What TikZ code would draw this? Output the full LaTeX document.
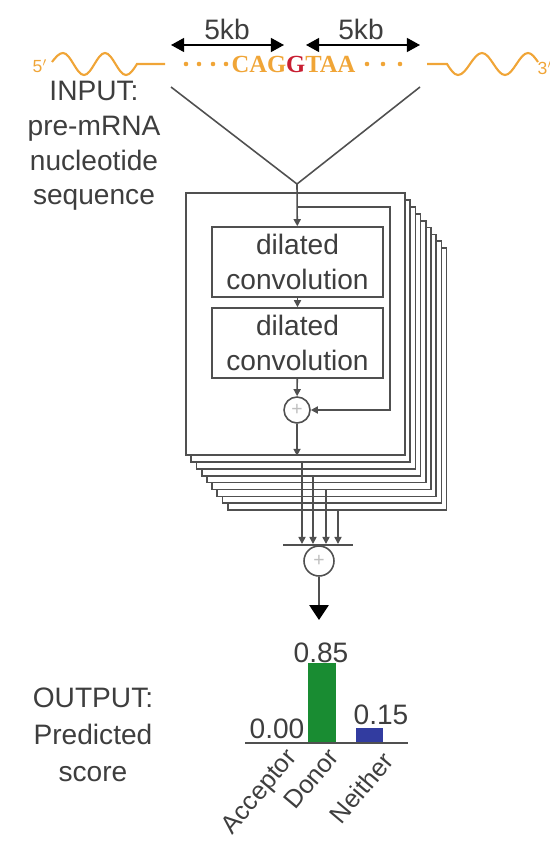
\documentclass[tikz,border=0pt]{standalone}
\usepackage{fontspec}
\setmainfont{Liberation Sans}
\newfontfamily\seqfont{Liberation Serif}
\usepackage{tikz}
\usetikzlibrary{positioning, arrows.meta}
\usepackage{xcolor}

\definecolor{textgray}{RGB}{62,62,62}
\definecolor{linegray}{RGB}{80,80,80}
\definecolor{rnaorange}{RGB}{240,165,55}
\definecolor{splicered}{RGB}{200,30,50}
\definecolor{donorgreen}{RGB}{25,140,50}
\definecolor{neitherblue}{RGB}{50,60,160}

\begin{document}
\begin{tikzpicture}[x=0.02cm, y=-0.02cm, font=\fontsize{16}{19.8}\selectfont,
    txt/.style={text=textgray, align=center, inner sep=0pt},
    wire/.style={draw=linegray, line width=0.9pt},
    flow/.style={wire, -{Triangle[length=4pt, width=4pt]}},
    kbspan/.style={draw=black, line width=0.9pt, {Triangle[length=7.5pt, width=8pt]}-{Triangle[length=7.5pt, width=8pt]}},
    rna/.style={draw=rnaorange, line width=1.2pt},
    block/.style={draw=linegray, fill=white, line width=1pt, minimum width=4.38cm, minimum height=5.24cm, inner sep=0pt},
    convbox/.style={draw=linegray, line width=0.9pt, text=textgray, align=center, minimum width=3.42cm, minimum height=1.4cm, inner sep=0pt},
    adder/.style={circle, draw=linegray, line width=0.9pt, fill=white, inner sep=0pt, text=lightgray, font=\fontsize{11}{11}\selectfont},
    category/.style={txt, rotate=50, anchor=east, font=\fontsize{14.5}{14.5}\selectfont}]

        \useasboundingbox (0,0) rectangle (549,851);

        % Pre-mRNA strand
        \node[text=rnaorange, font=\fontsize{10}{10}\selectfont] (five) at (40,66) {5$'$};
        \node[text=rnaorange, font=\fontsize{10}{10}\selectfont] (three) at (545,68) {3$'$};
        \draw[rna] (52,62) sin (63,53) cos (73.5,64) sin (84,75) cos (94.5,64) sin (105,53) cos (115.5,64) sin (126,75) cos (137,64) -- (165,64);
        \draw[rna] (427,64) -- (447,64) sin (458,75) cos (470,64) sin (482,53) cos (493.5,64) sin (505,75) cos (516.5,64) sin (528,53) cos (538,62);
        \foreach \x in {186,199,213,226,367,383,400}
            \fill[rnaorange] (\x,64) circle (1.3pt);
        \node[font=\seqfont\bfseries\fontsize{14}{14}\selectfont, text=rnaorange, inner sep=0pt] (seq) at (293.5,64) {CAG\textcolor{splicered}{G}TAA};

        % 5kb windows
        \coordinate (spanLa) at (171,45);
        \coordinate (spanLb) at (284,45);
        \coordinate (spanRa) at (306,45);
        \coordinate (spanRb) at (420,45);
        \draw[kbspan] (spanLa) -- (spanLb);
        \draw[kbspan] (spanRa) -- (spanRb);
        \node[txt] (kbL) at (227,29) {5kb};
        \node[txt] (kbR) at (361,29) {5kb};

        % Input funnel
        \coordinate (vL) at (171,87);
        \coordinate (vR) at (420,87);
        \coordinate (vJ) at (297,184);
        \draw[wire] (vL) -- (vJ) -- (vR);
        \node[txt] (input) at (94,146) {INPUT:\\pre-mRNA\\nucleotide\\sequence};

        % Stacked residual blocks
        \foreach \k in {8,7,...,1}
            \node[block] (block\k) at (295.5+5.2*\k, 324+6.9*\k) {};
        \node[block] (front) at (295.5,324) {};

        \node[convbox] (convA) at (297.5,262) {dilated\\convolution};
        \node[convbox] (convB) at (297.5,343) {dilated\\convolution};
        \node[adder, minimum size=0.52cm] (sumA) at (297,410) {+};

        \coordinate (skipA) at (297,207);
        \coordinate (skipB) at (390,207);
        \draw[flow] (vJ) -- (convA);
        \draw[flow] (convA) -- (convB);
        \draw[flow] (convB) -- (sumA);
        \draw[flow] (skipA) -- (skipB) |- (sumA);
        \draw[flow] (sumA) -- (sumA |- front.south);

        % Block outputs summed
        \coordinate (tapA) at (302,544);
        \coordinate (tapB) at (313,544);
        \coordinate (tapC) at (326,544);
        \coordinate (tapD) at (338,544);
        \draw[flow] (block1.south -| tapA) -- (tapA);
        \draw[flow] (block3.south -| tapB) -- (tapB);
        \draw[flow] (block5.south -| tapC) -- (tapC);
        \draw[flow] (block8.south -| tapD) -- (tapD);

        \coordinate (mergeL) at (283,545);
        \coordinate (mergeR) at (353,545);
        \draw[wire] (mergeL) -- (mergeR);
        \node[adder, minimum size=0.6cm] (sumB) at (319,561) {+};
        \coordinate (score) at (319,620);
        \draw[wire, -{Triangle[length=8.5pt, width=11pt, color=black]}] (sumB) -- (score);

        % Output scores
        \fill[donorgreen] (308,663) rectangle (336,743);
        \fill[neitherblue] (356,728) rectangle (383,743);
        \fill[splicered!70!black] (263,741.5) rectangle (290,743);
        \coordinate (axisL) at (245,743);
        \coordinate (axisR) at (408,743);
        \draw[draw=linegray, line width=1.3pt] (axisL) -- (axisR);

        \node[txt] (valAcc) at (277,729) {0.00};
        \node[txt] (valDon) at (321,653) {0.85};
        \node[txt] (valNei) at (381,715) {0.15};

        \node[category] (catAcc) at (293,754) {Acceptor};
        \node[category] (catDon) at (334,752) {Donor};
        \node[category] (catNei) at (388,756) {Neither};

        \node[txt, font=\fontsize{16}{21}\selectfont] (output) at (93,735) {OUTPUT:\\Predicted\\score};

    \end{tikzpicture}
\end{document}
